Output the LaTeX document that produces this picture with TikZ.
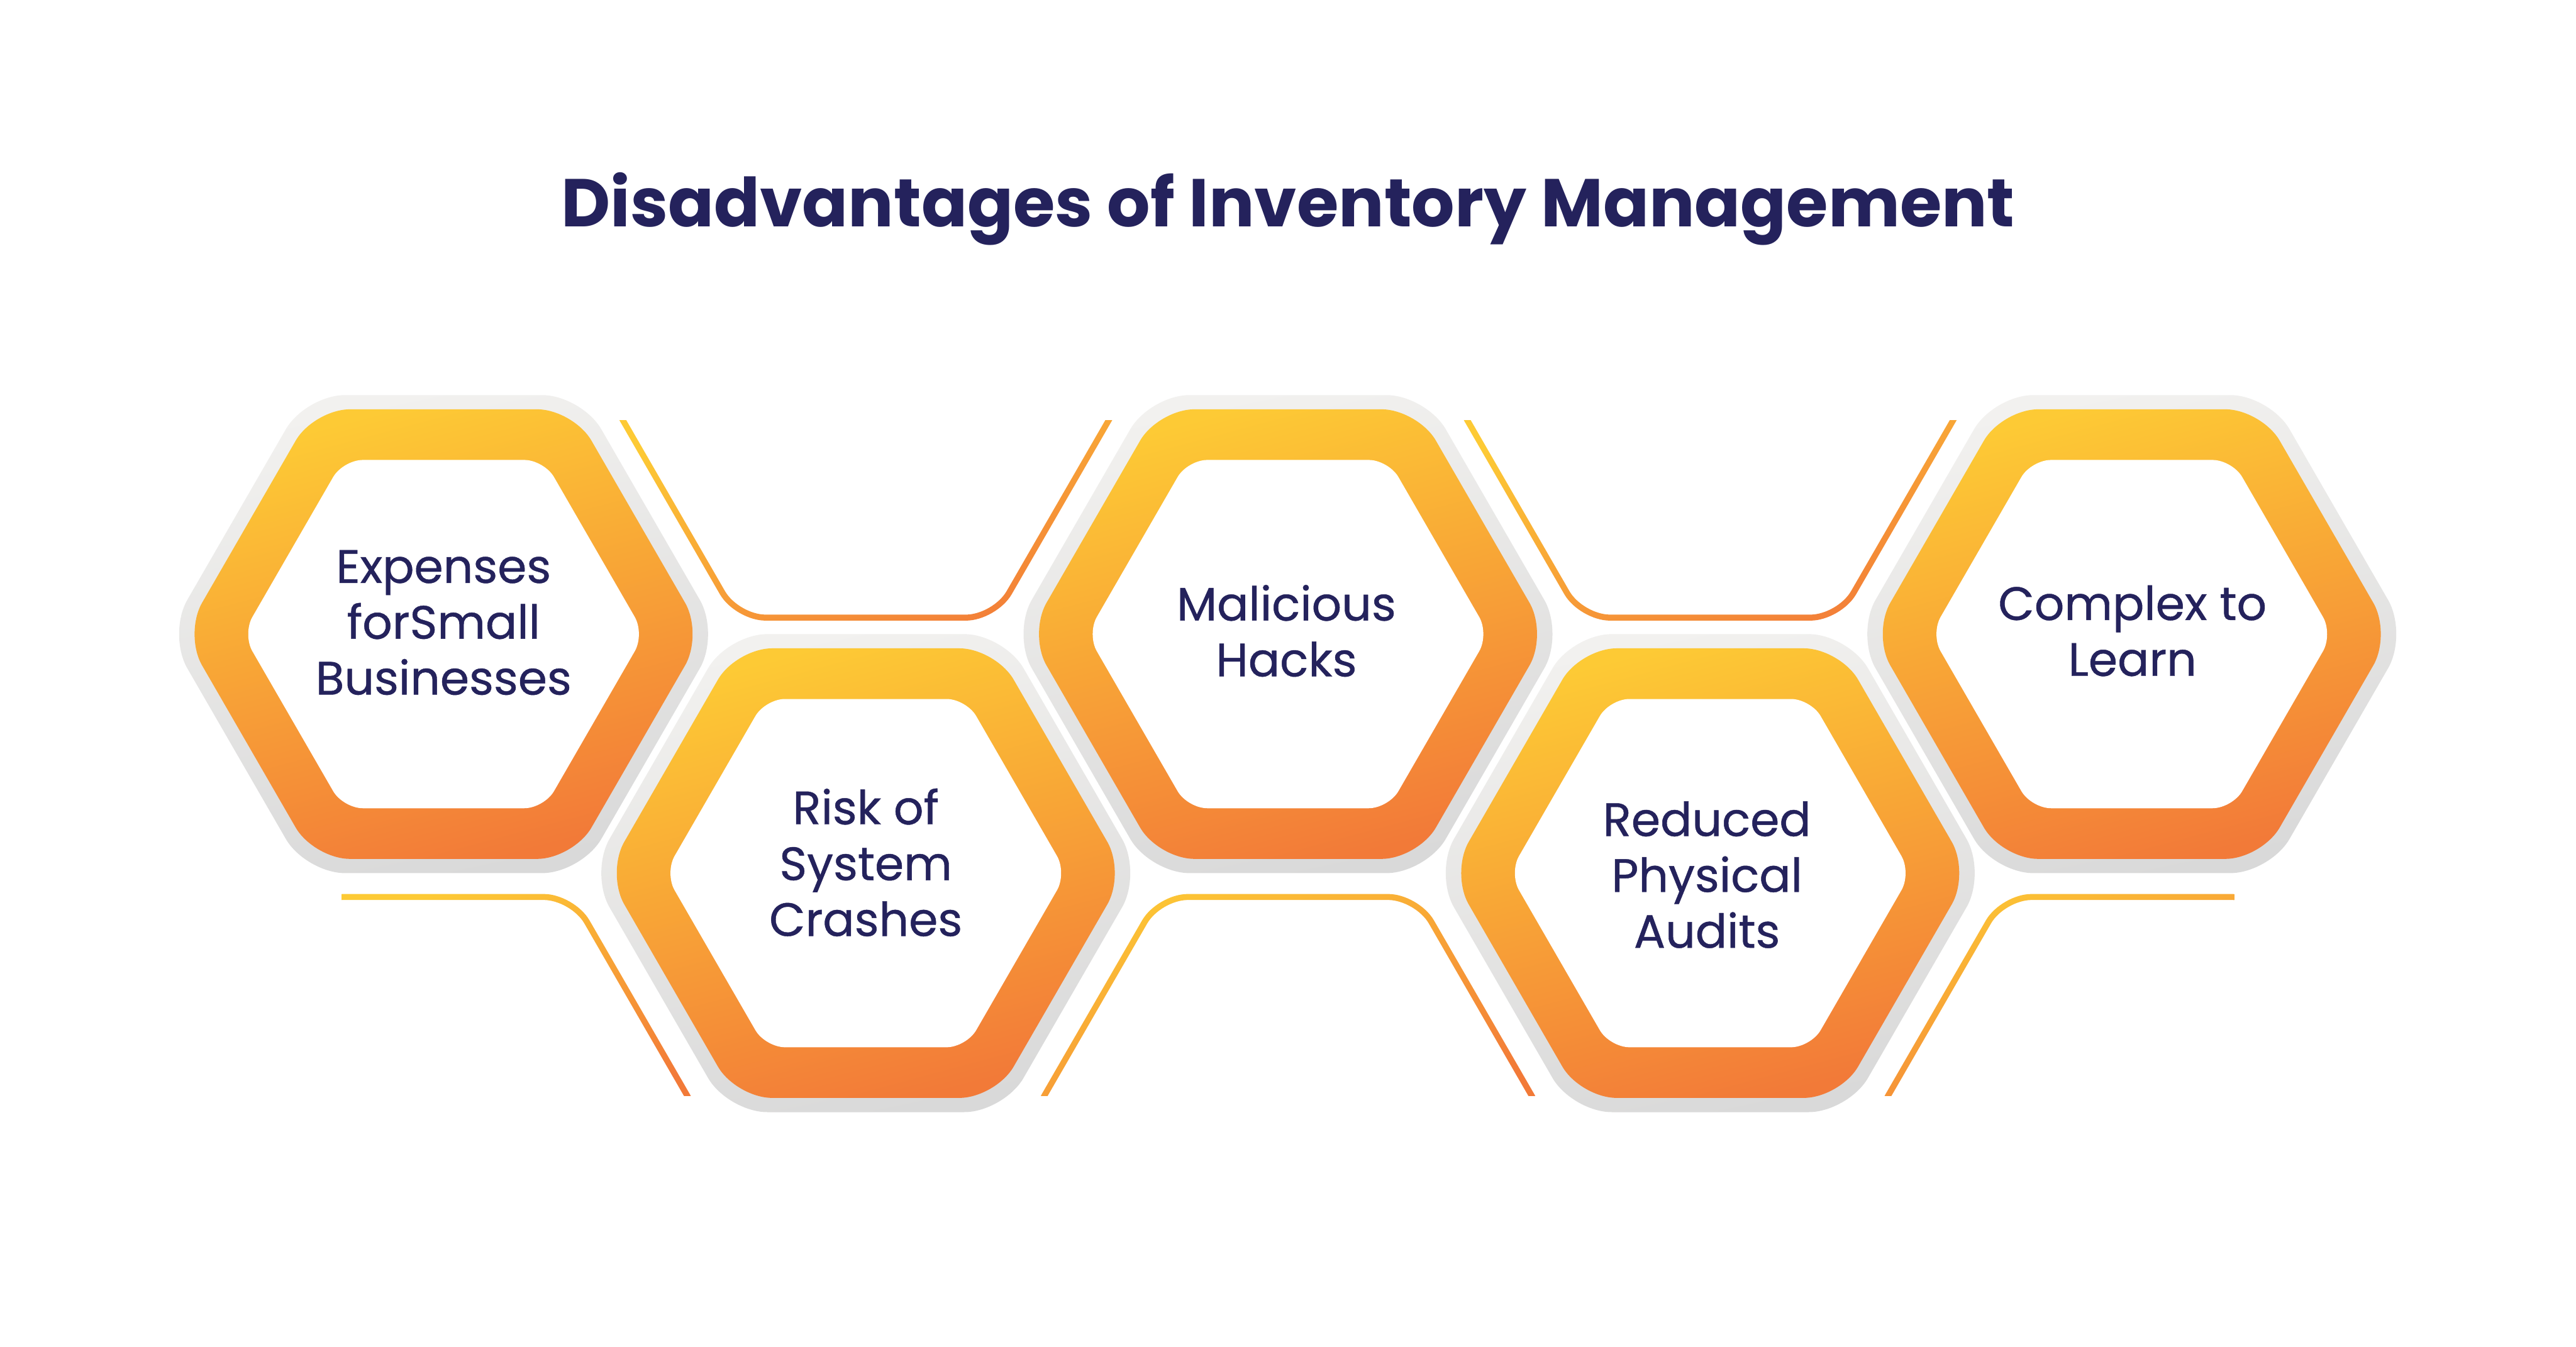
\documentclass[tikz,border=0pt]{standalone}
\usepackage{fontspec}
\setmainfont{Poppins}
\newfontfamily\labelfont{Poppins}[FakeBold=0.6]
\definecolor{navy}{HTML}{24225C}
\definecolor{hexyellow}{HTML}{FDCA35}
\definecolor{hexorange}{HTML}{F27A38}
\definecolor{graytop}{HTML}{F2F1EF}
\definecolor{graybot}{HTML}{D9D9D9}
\newcommand\hexfwd[3]{({#1},{#2-0.8660254*(#3)}) -- ({#1+0.5*(#3)},{#2-0.8660254*(#3)}) -- ({#1+(#3)},{#2}) -- ({#1+0.5*(#3)},{#2+0.8660254*(#3)}) -- ({#1-0.5*(#3)},{#2+0.8660254*(#3)}) -- ({#1-(#3)},{#2}) -- ({#1-0.5*(#3)},{#2-0.8660254*(#3)}) -- cycle}
\newcommand\hexrev[3]{({#1},{#2-0.8660254*(#3)}) -- ({#1-0.5*(#3)},{#2-0.8660254*(#3)}) -- ({#1-(#3)},{#2}) -- ({#1-0.5*(#3)},{#2+0.8660254*(#3)}) -- ({#1+0.5*(#3)},{#2+0.8660254*(#3)}) -- ({#1+(#3)},{#2}) -- ({#1+0.5*(#3)},{#2-0.8660254*(#3)}) -- cycle}
\tikzset{
  grayhex/.style={top color=graytop, bottom color=graybot, shading angle=12, rounded corners=24},
  orangehex/.style={top color=hexyellow, bottom color=hexorange, shading angle=15, rounded corners=22},
  whitehex/.style={fill=white, rounded corners=12},
  linegrad/.style={top color=hexyellow, bottom color=hexorange, shading angle=20},
  hexlabel/.style={text=navy, font=\labelfont\fontsize{28.5}{34}\selectfont, align=center, inner sep=0pt},
  titlelabel/.style={text=navy, font=\fontsize{41.2}{48}\selectfont\bfseries, inner sep=0pt}
}
\newcommand\honeycell[2]{%
  \shade[grayhex] \hexfwd{#1}{#2}{168};
  \shade[orangehex] \hexfwd{#1}{#2}{158};
  \fill[whitehex] \hexfwd{#1}{#2}{122.4};
}
\newcommand\hexconnector[6]{%
  \begin{scope}
    \clip[rounded corners=18.5] \hexfwd{#1}{#2}{159.1} [rounded corners=16.5] \hexrev{#1}{#2}{154.9};
    \shade[linegrad] (#3,#4) rectangle (#5,#6);
  \end{scope}
}
\begin{document}
\begin{tikzpicture}[x=1pt,y=-1pt]
\useasboundingbox[fill=white] (0,0) rectangle (1568,819.6);
% title
\node[titlelabel] (title) at (784,127) {Disadvantages of Inventory Management};
% connectors (parts of virtual hexagons)
\hexconnector{527}{240}{360}{256}{700}{382}
\hexconnector{1041}{240}{874}{256}{1210}{382}
\hexconnector{270}{682}{208}{540}{440}{667}
\hexconnector{784}{682}{610}{540}{960}{667}
\hexconnector{1297.6}{682}{1120}{540}{1360}{667}
% hexagons
\honeycell{270}{386}
\honeycell{527}{531.5}
\honeycell{784}{386}
\honeycell{1041}{531.5}
\honeycell{1297.6}{386}
% labels
\node[hexlabel] (h1) at (270,379) {Expenses\\forSmall\\Businesses};
\node[hexlabel] (h2) at (527,525) {Risk of\\System\\Crashes};
\node[hexlabel] (h3) at (783,384) {Malicious\\Hacks};
\node[hexlabel] (h4) at (1039,532.5) {Reduced\\Physical\\Audits};
\node[hexlabel] (h5) at (1298,384) {Complex to\\Learn};
\end{tikzpicture}
\end{document}
